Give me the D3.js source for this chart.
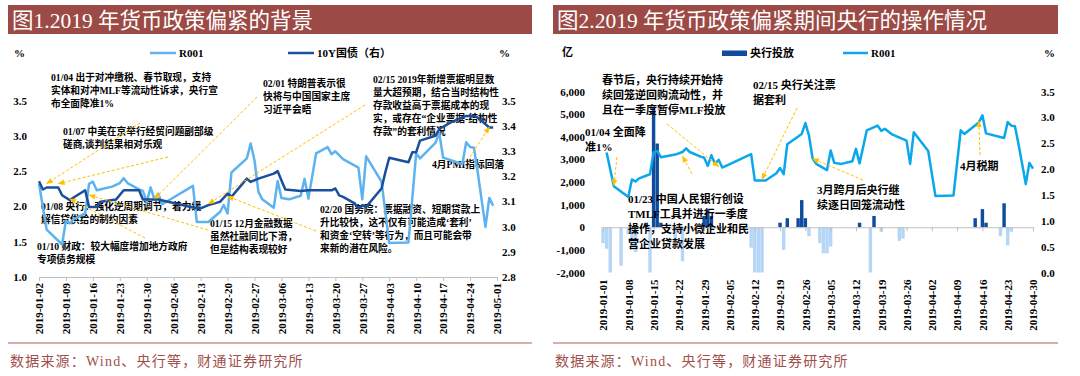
<!DOCTYPE html>
<html lang="zh">
<head>
<meta charset="utf-8">
<title>2019 货币政策偏紧</title>
<script src="https://cdn.jsdelivr.net/npm/d3@7"></script>
<style>
  body { margin: 0; background: #fff; }
  svg text { font-family: "Liberation Serif", "Noto Sans CJK SC", serif; }
  .tick line, .domain { stroke: #bfbfbf; }
  .ann { font-weight: 700; fill: #000; }
  .axlab { font-weight: 700; font-size: 11px; fill: #000; }
</style>
</head>
<body>
<script>
const parse = d3.timeParse("%Y-%m-%d");

// R001（%），两张图共用
const r001 = [
  ["2019-01-02",2.32],["2019-01-04",1.67],["2019-01-08",1.46],["2019-01-09",1.80],["2019-01-10",1.76],
  ["2019-01-11",1.82],["2019-01-14",1.90],["2019-01-15",2.32],["2019-01-16",2.35],["2019-01-17",2.23],
  ["2019-01-21",2.28],["2019-01-23",2.33],["2019-01-24",2.40],["2019-01-25",2.33],["2019-01-28",2.24],
  ["2019-01-29",2.22],["2019-01-30",2.06],["2019-01-31",2.27],["2019-02-01",2.10],["2019-02-02",2.18],
  ["2019-02-03",2.03],["2019-02-11",2.29],["2019-02-12",1.78],["2019-02-15",1.78],["2019-02-18",1.92],
  ["2019-02-19",2.02],["2019-02-20",1.90],["2019-02-21",2.48],["2019-02-25",2.68],["2019-02-26",2.89],
  ["2019-02-27",2.65],["2019-02-28",2.21],["2019-03-01",2.10],["2019-03-04",1.98],["2019-03-05",2.36],
  ["2019-03-06",2.12],["2019-03-08",2.10],["2019-03-11",2.15],["2019-03-12",2.39],["2019-03-13",2.11],
  ["2019-03-15",2.75],["2019-03-18",2.84],["2019-03-19",2.74],["2019-03-20",2.78],["2019-03-22",2.67],
  ["2019-03-26",2.55],["2019-03-27",2.10],["2019-03-28",2.71],["2019-04-01",2.35],["2019-04-03",1.48],
  ["2019-04-08",1.49],["2019-04-10",2.75],["2019-04-11",2.68],["2019-04-15",2.90],["2019-04-16",3.04],
  ["2019-04-17",2.69],["2019-04-22",2.60],["2019-04-23",2.91],["2019-04-24",2.84],["2019-04-25",2.83],
  ["2019-04-26",2.48],["2019-04-28",1.71],["2019-04-29",2.12],["2019-04-30",2.01]
];

// 10Y国债（%，右轴）
const cgb10y = [
  ["2019-01-02",3.180],["2019-01-03",3.147],["2019-01-04",3.155],["2019-01-07",3.155],["2019-01-08",3.124],
  ["2019-01-10",3.105],["2019-01-11",3.115],["2019-01-14",3.144],["2019-01-15",3.078],["2019-01-17",3.078],
  ["2019-01-18",3.098],["2019-01-22",3.107],["2019-01-24",3.144],["2019-01-28",3.144],["2019-01-29",3.107],
  ["2019-02-02",3.107],["2019-02-11",3.076],["2019-02-13",3.072],["2019-02-15",3.085],["2019-02-18",3.098],
  ["2019-02-20",3.131],["2019-02-21",3.118],["2019-02-25",3.190],["2019-02-26",3.177],["2019-02-28",3.190],
  ["2019-03-04",3.210],["2019-03-05",3.220],["2019-03-06",3.183],["2019-03-07",3.147],["2019-03-11",3.141],
  ["2019-03-13",3.144],["2019-03-19",3.144],["2019-03-20",3.151],["2019-03-21",3.124],["2019-03-22",3.118],
  ["2019-03-25",3.092],["2019-03-26",3.072],["2019-03-27",3.085],["2019-03-28",3.078],["2019-04-01",3.151],
  ["2019-04-02",3.216],["2019-04-03",3.273],["2019-04-08",3.255],["2019-04-09",3.295],["2019-04-10",3.295],
  ["2019-04-11",3.341],["2019-04-15",3.360],["2019-04-16",3.387],["2019-04-19",3.413],["2019-04-23",3.439],
  ["2019-04-25",3.439],["2019-04-26",3.432],["2019-04-29",3.393],["2019-04-30",3.393]
];

// 央行投放（亿元）
const pbocNet = [
  ["2019-01-01",-700],["2019-01-02",-950],["2019-01-03",-2400],["2019-01-06",-1700],["2019-01-08",-300],
  ["2019-01-09",-1000],["2019-01-10",-1100],["2019-01-13",200],["2019-01-14",-2400],["2019-01-15",5300],
  ["2019-01-16",3700],["2019-01-17",200],["2019-01-21",-600],["2019-01-23",-1500],["2019-01-29",500],
  ["2019-01-30",800],["2019-01-31",500],["2019-02-11",-900],["2019-02-12",-2400],["2019-02-13",-2400],
  ["2019-02-14",-2400],["2019-02-19",200],["2019-02-20",-1000],["2019-02-21",400],["2019-02-24",400],
  ["2019-02-25",1200],["2019-02-26",400],["2019-02-27",-400],["2019-03-02",-700],["2019-03-03",-1150],
  ["2019-03-04",-1150],["2019-03-05",-850],["2019-03-13",200],["2019-03-16",-2400],["2019-03-17",500],
  ["2019-03-19",-200],["2019-03-24",-600],["2019-03-25",-500],["2019-04-14",400],["2019-04-15",-50],
  ["2019-04-16",800],["2019-04-17",200],["2019-04-21",-400],["2019-04-22",1060],["2019-04-23",-800],
  ["2019-04-24",-200]
];

const leftDates = ["2019-01-02","2019-01-09","2019-01-16","2019-01-23","2019-01-30","2019-02-06",
  "2019-02-13","2019-02-20","2019-02-27","2019-03-06","2019-03-13","2019-03-20","2019-03-27",
  "2019-04-03","2019-04-10","2019-04-17","2019-04-24","2019-05-01"];
const rightDates = ["2019-01-01","2019-01-08","2019-01-15","2019-01-22","2019-01-29","2019-02-05",
  "2019-02-12","2019-02-19","2019-02-26","2019-03-05","2019-03-12","2019-03-19","2019-03-26",
  "2019-04-02","2019-04-09","2019-04-16","2019-04-23","2019-04-30"];
const r001Ticks = [1.0, 1.5, 2.0, 2.5, 3.0, 3.5];
const bondTicks = [2.8, 2.9, 3.0, 3.1, 3.2, 3.3, 3.4, 3.5];
const amountTicks = [-2000, -1000, 0, 1000, 2000, 3000, 4000, 5000, 6000];
const rateTicks = [0, 0.5, 1.0, 1.5, 2.0, 2.5, 3.0, 3.5];

const C = {
  banner: "#9c4a45", foot: "#a0504b", rule: "#c8938f",
  rLight: "#5cb3ef", bond: "#1b4f9c", rCyan: "#0aa8ea",
  barPos: "#0f4c9e", barNeg: "#b5d6f6", arrow: "#ffc000"
};

const svg = d3.select("body").append("svg")
  .attr("width", 1080).attr("height", 376);

svg.append("defs").append("marker")
  .attr("id", "arr").attr("viewBox", "0 0 10 10")
  .attr("refX", 9).attr("refY", 5)
  .attr("markerWidth", 7).attr("markerHeight", 7)
  .attr("orient", "auto")
  .append("path").attr("d", "M0,1L10,5L0,9z").attr("fill", C.arrow);

const fmtDate = d3.timeFormat("%Y-%m-%d");
const fmtNum = d3.formatLocale({decimal: ".", thousands: ",", grouping: [3], currency: ["", ""], minus: "-"}).format(",");

// 标题栏 + 底部来源
function frame(x0, x1, title) {
  svg.append("rect").attr("x", x0).attr("y", 5).attr("width", x1 - x0).attr("height", 29).attr("fill", C.banner);
  svg.append("text").attr("x", x0 + 4).attr("y", 27.5).attr("fill", "#fff")
    .attr("font-size", 21.5).text(title);
  svg.append("line").attr("x1", x0).attr("x2", x1).attr("y1", 343).attr("y2", 343)
    .attr("stroke", C.rule).attr("stroke-width", 1.5);
  svg.append("text").attr("x", x0 + 2).attr("y", 366).attr("fill", C.foot)
    .attr("font-size", 14).attr("letter-spacing", 1.2).text("数据来源：Wind、央行等，财通证券研究所");
}
frame(8, 532, "图1.2019 年货币政策偏紧的背景");
frame(553, 1058, "图2.2019 年货币政策偏紧期间央行的操作情况");

function annotate(g, items, size, lh) {
  items.forEach(a => {
    const t = g.append("text").attr("class", "ann").attr("font-size", size);
    a.lines.forEach((s, i) => {
      t.append("tspan").attr("x", a.x).attr("y", a.y + i * lh).attr("dy", "0.35em").text(s);
    });
  });
}

function arrows(g, items, xs, ys) {
  items.forEach(a => {
    const tx = xs(parse(a.date)), ty = ys(a.v);
    g.append("line").attr("x1", a.from[0]).attr("y1", a.from[1]).attr("x2", tx).attr("y2", ty)
      .attr("stroke", C.arrow).attr("stroke-width", 1).attr("stroke-dasharray", "3,2")
      .attr("marker-end", "url(#arr)");
  });
}

function styleAxisText(g) {
  g.selectAll("text").attr("class", "axlab");
}

// ---------------- 图1 ----------------
{
  const xL = d3.scaleTime().domain([parse("2019-01-02"), parse("2019-05-01")]).range([39, 497]);
  const yL = d3.scaleLinear().domain([1, 3.5]).range([277, 100.5]);
  const yB = d3.scaleLinear().domain([2.8, 3.5]).range([277, 100.5]);
  const g = svg.append("g");

  // 坐标轴
  const ax = g.append("g").attr("transform", "translate(0,277)")
    .call(d3.axisBottom(xL).tickValues(leftDates.map(parse)).tickSize(4).tickSizeOuter(0).tickFormat(fmtDate));
  ax.selectAll("text").attr("class", "axlab").attr("font-size", 10)
    .attr("transform", "rotate(-90)").attr("text-anchor", "end").attr("x", -6).attr("y", 0).attr("dy", "0.35em");

  const ayl = g.append("g").attr("transform", "translate(27,0)")
    .call(d3.axisLeft(yL).tickValues(r001Ticks).tickSize(0).tickPadding(0).tickFormat(d3.format(".1f")));
  ayl.select(".domain").remove(); styleAxisText(ayl);
  const ayr = g.append("g").attr("transform", "translate(502,0)")
    .call(d3.axisRight(yB).tickValues(bondTicks).tickSize(0).tickPadding(0).tickFormat(d3.format(".1f")));
  ayr.select(".domain").remove(); styleAxisText(ayr);

  g.append("text").attr("class", "axlab").attr("x", 14).attr("y", 53).attr("dy", "0.35em").text("%");
  g.append("text").attr("class", "axlab").attr("x", 499).attr("y", 53).attr("dy", "0.35em").text("%");

  // 图例
  g.append("line").attr("x1", 150).attr("x2", 176).attr("y1", 53).attr("y2", 53).attr("stroke", C.rLight).attr("stroke-width", 2.5);
  g.append("text").attr("class", "axlab").attr("x", 179).attr("y", 53).attr("dy", "0.35em").text("R001");
  g.append("line").attr("x1", 288).attr("x2", 314).attr("y1", 53).attr("y2", 53).attr("stroke", C.bond).attr("stroke-width", 2.5);
  g.append("text").attr("class", "axlab").attr("x", 317).attr("y", 53).attr("dy", "0.35em").text("10Y国债（右）");

  annotate(g, [
    {x: 51, y: 78, lines: ["01/04 出于对冲缴税、春节取现，支持", "实体和对冲MLF等流动性诉求，央行宣", "布全面降准1%"]},
    {x: 263, y: 84, lines: ["02/01 特朗普表示很", "快将与中国国家主席", "习近平会晤"]},
    {x: 373, y: 80, lines: ["02/15 2019年新增票据明显数", "量大超预期，结合当时结构性", "存款收益高于票据成本的现", "实，或存在“企业票据-结构性", "存款”的套利情况"]},
    {x: 63, y: 131.5, lines: ["01/07 中美在京举行经贸问题副部级", "磋商,谈判结果相对乐观"]},
    {x: 41, y: 207, lines: ["01/08 央行：强化逆周期调节，着力缓", "解信贷供给的制约因素"]},
    {x: 37, y: 247, lines: ["01/10 财政：较大幅度增加地方政府", "专项债务规模"]},
    {x: 210, y: 223.5, lines: ["01/15 12月金融数据", "虽然社融同比下滑，", "但是结构表现较好"]},
    {x: 320, y: 210, lines: ["02/20 国务院：票据融资、短期贷款上", "升比较快，这不仅有可能造成‘套利’", "和资金‘空转’等行为，而且可能会带", "来新的潜在风险。"]},
    {x: 432, y: 165, lines: ["4月PMI指标回落"]}
  ], 9.7, 13);

  const line = (ys) => d3.line().x(d => xL(parse(d[0]))).y(d => ys(d[1]));
  g.append("path").datum(r001).attr("d", line(yL)).attr("fill", "none").attr("stroke", C.rLight).attr("stroke-width", 2.5).attr("stroke-linejoin", "round");
  g.append("path").datum(cgb10y).attr("d", line(yB)).attr("fill", "none").attr("stroke", C.bond).attr("stroke-width", 2.5).attr("stroke-linejoin", "round");

  arrows(g, [
    {from: [140, 123], date: "2019-01-04", v: 3.17},
    {from: [168, 157], date: "2019-01-07", v: 3.17},
    {from: [145, 238], date: "2019-01-10", v: 3.11},
    {from: [208, 230], date: "2019-01-15", v: 3.125},
    {from: [257, 97], date: "2019-02-01", v: 3.11},
    {from: [365, 105], date: "2019-02-15", v: 3.09},
    {from: [316, 231], date: "2019-02-20", v: 3.12},
    {from: [470, 157], date: "2019-04-29", v: 3.395}
  ], xL, yB);
}

// ---------------- 图2 ----------------
{
  const xR = d3.scaleTime().domain([parse("2019-01-01"), parse("2019-04-30")]).range([603, 1033]);
  const yA = d3.scaleLinear().domain([-2000, 6000]).range([272.5, 91.5]);
  const yR = d3.scaleLinear().domain([0, 3.5]).range([272.5, 91.5]);
  const g = svg.append("g");

  g.append("clipPath").attr("id", "clipR").append("rect")
    .attr("x", 590).attr("y", 91.5).attr("width", 450).attr("height", 181);

  const bw = (xR(parse("2019-01-02")) - xR(parse("2019-01-01"))) * 0.95;
  g.append("g").attr("clip-path", "url(#clipR)").selectAll("rect").data(pbocNet).join("rect")
    .attr("x", d => xR(parse(d[0])) - bw / 2)
    .attr("y", d => yA(Math.max(0, d[1])))
    .attr("width", bw)
    .attr("height", d => Math.abs(yA(d[1]) - yA(0)))
    .attr("fill", d => d[1] >= 0 ? C.barPos : C.barNeg);

  // 零轴（刻度向下）
  g.append("g").attr("transform", `translate(0,${yA(0)})`)
    .call(d3.axisBottom(xR).tickValues(rightDates.map(parse)).tickSize(4).tickSizeOuter(0).tickFormat(""));
  const ax = g.append("g").attr("transform", "translate(0,272.5)")
    .call(d3.axisBottom(xR).tickValues(rightDates.map(parse)).tickSize(0).tickFormat(fmtDate));
  ax.select(".domain").remove();
  ax.selectAll("text").attr("class", "axlab").attr("font-size", 10.5)
    .attr("transform", "rotate(-90)").attr("text-anchor", "end").attr("x", -7).attr("y", 0).attr("dy", "0.35em");

  const ayl = g.append("g").attr("transform", "translate(585,0)")
    .call(d3.axisLeft(yA).tickValues(amountTicks).tickSize(0).tickPadding(0).tickFormat(fmtNum));
  ayl.select(".domain").remove(); styleAxisText(ayl);
  const ayr = g.append("g").attr("transform", "translate(1041,0)")
    .call(d3.axisRight(yR).tickValues(rateTicks).tickSize(0).tickPadding(0).tickFormat(d3.format(".1f")));
  ayr.select(".domain").remove(); styleAxisText(ayr);

  g.append("text").attr("class", "axlab").attr("x", 562).attr("y", 52).attr("dy", "0.35em").text("亿");
  g.append("text").attr("class", "axlab").attr("x", 1044).attr("y", 53).attr("dy", "0.35em").text("%");

  g.append("rect").attr("x", 722).attr("y", 50.5).attr("width", 25).attr("height", 5.5).attr("fill", C.barPos);
  g.append("text").attr("class", "axlab").attr("x", 750).attr("y", 53).attr("dy", "0.35em").text("央行投放");
  g.append("line").attr("x1", 843).attr("x2", 868).attr("y1", 53).attr("y2", 53).attr("stroke", C.rCyan).attr("stroke-width", 2.5);
  g.append("text").attr("class", "axlab").attr("x", 871).attr("y", 53).attr("dy", "0.35em").text("R001");

  annotate(g, [
    {x: 602, y: 80, lines: ["春节后，央行持续开始持", "续回笼逆回购流动性，并", "且在一季度暂停MLF投放"]},
    {x: 753, y: 85, lines: ["02/15 央行关注票", "据套利"]},
    {x: 585, y: 132, lines: ["01/04 全面降", "准1%"]},
    {x: 628, y: 199, lines: ["01/23 中国人民银行创设", "TMLF工具并进行一季度", "操作，支持小微企业和民", "营企业贷款发展"]},
    {x: 817, y: 190, lines: ["3月跨月后央行继", "续逐日回笼流动性"]},
    {x: 960, y: 166, lines: ["4月税期"]}
  ], 11, 15);

  g.append("path").datum(r001)
    .attr("d", d3.line().x(d => xR(parse(d[0]))).y(d => yR(d[1])))
    .attr("fill", "none").attr("stroke", C.rCyan).attr("stroke-width", 2.5).attr("stroke-linejoin", "round");

  arrows(g, [
    {from: [617, 157], date: "2019-01-04", v: 1.68},
    {from: [667, 124], date: "2019-02-02", v: 2.05},
    {from: [692, 174], date: "2019-01-23", v: 2.25},
    {from: [797, 108], date: "2019-02-14", v: 1.80},
    {from: [863, 180], date: "2019-02-28", v: 2.20},
    {from: [980, 155], date: "2019-04-15", v: 2.93}
  ], xR, yR);
}
</script>
</body>
</html>
